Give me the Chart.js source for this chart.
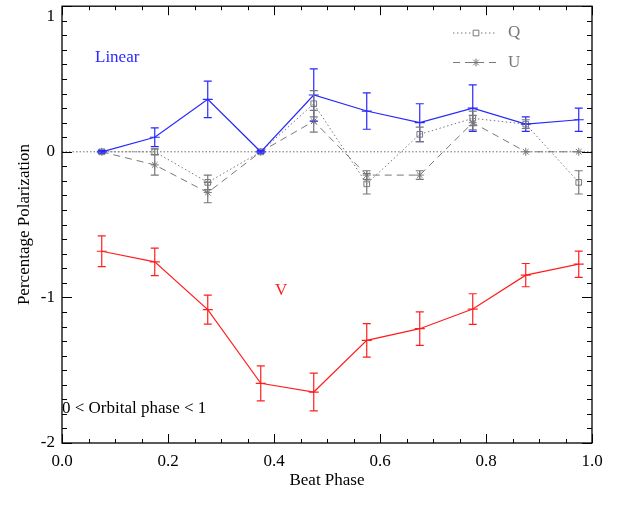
<!DOCTYPE html>
<html>
<head>
<meta charset="utf-8">
<script src="https://cdn.jsdelivr.net/npm/chart.js@4"></script>
<style>
  html, body { margin: 0; padding: 0; background: #fff; }
  #wrap { width: 623px; height: 510px; }
</style>
</head>
<body>
<div id="wrap"><canvas id="polChart" width="623" height="510"></canvas></div>
<script>
// beat phase bins
const phase = [0.075, 0.175, 0.275, 0.375, 0.475, 0.575, 0.675, 0.775, 0.875, 0.975];

// linear polarization
const linear = [0, 0.10, 0.36, 0, 0.39, 0.28, 0.20, 0.30, 0.19, 0.22];
const linearErr = [0.01, 0.065, 0.125, 0.01, 0.18, 0.125, 0.13, 0.16, 0.05, 0.08];

// Stokes Q and U
const qVals = [0, 0, -0.21, 0, 0.33, -0.22, 0.12, 0.23, 0.19, -0.21];
const qErr = [0, 0.02, 0.05, 0, 0.09, 0.07, 0.05, 0.05, 0.03, 0.08];
const uVals = [0, -0.09, -0.28, 0, 0.21, -0.16, -0.16, 0.20, 0, 0];
const uErr = [0, 0.07, 0.07, 0, 0.075, 0.03, 0.03, 0.05, 0, 0];

// circular polarization
const vVals = [-0.683, -0.756, -1.084, -1.59, -1.65, -1.295, -1.215, -1.08, -0.847, -0.772];
const vErr = [0.105, 0.095, 0.1, 0.12, 0.13, 0.115, 0.115, 0.105, 0.08, 0.09];

const xTickLabels = [0, 0.2, 0.4, 0.6, 0.8, 1.0];
const yTickLabels = [1, 0, -1, -2];

const SERIF = "'Liberation Serif', 'DejaVu Serif', serif";
const BLUE = "rgb(40, 40, 255)";
const RED = "rgb(255, 30, 30)";
const GRAY = "rgb(120, 120, 120)";

const toPoints = (vals) => vals.map((v, i) => ({ x: phase[i], y: v }));

// error bars drawn through the chart scales
const errorBarPlugin = {
  id: "errorBars",
  afterDatasetsDraw(chart) {
    const ctx = chart.ctx;
    const xs = chart.scales.x;
    const ys = chart.scales.y;
    chart.data.datasets.forEach((ds) => {
      if (!ds.errors) return;
      ctx.save();
      ctx.strokeStyle = ds.borderColor;
      ctx.lineWidth = 1.2;
      ds.data.forEach((p, i) => {
        const e = ds.errors[i];
        if (!e) return;
        const px = xs.getPixelForValue(p.x);
        const top = ys.getPixelForValue(p.y + e);
        const bot = ys.getPixelForValue(p.y - e);
        ctx.beginPath();
        ctx.moveTo(px, top);
        ctx.lineTo(px, bot);
        ctx.moveTo(px - 4, top);
        ctx.lineTo(px + 4, top);
        ctx.moveTo(px - 4, bot);
        ctx.lineTo(px + 4, bot);
        ctx.stroke();
      });
      ctx.restore();
    });
  },
};

// zero line, box, inward ticks, annotations and legend
const framePlugin = {
  id: "frame",
  beforeDatasetsDraw(chart) {
    const { ctx, chartArea } = chart;
    const y0 = chart.scales.y.getPixelForValue(0);
    ctx.save();
    ctx.strokeStyle = "rgb(110, 110, 110)";
    ctx.lineWidth = 1;
    ctx.setLineDash([1.5, 2]);
    ctx.beginPath();
    ctx.moveTo(chartArea.left, y0);
    ctx.lineTo(chartArea.right, y0);
    ctx.stroke();
    ctx.restore();
  },
  afterDraw(chart) {
    const { ctx, chartArea } = chart;
    const { left, right, top, bottom } = chartArea;
    const xs = chart.scales.x;
    const ys = chart.scales.y;
    ctx.save();
    ctx.strokeStyle = "#000";
    ctx.lineWidth = 1.3;
    ctx.strokeRect(left, top, right - left, bottom - top);

    ctx.lineWidth = 1;
    ctx.beginPath();
    for (let k = 0; k <= 20; k++) {
      const v = k * 0.05;
      const px = Math.round(xs.getPixelForValue(v)) + 0.5;
      const len = k % 4 === 0 ? 9 : 4;
      ctx.moveTo(px, bottom);
      ctx.lineTo(px, bottom - len);
      ctx.moveTo(px, top);
      ctx.lineTo(px, top + len);
    }
    for (let k = 0; k <= 30; k++) {
      const v = 1 - k * 0.1;
      const py = Math.round(ys.getPixelForValue(v)) + 0.5;
      const len = k % 10 === 0 ? 10 : 5;
      ctx.moveTo(left, py);
      ctx.lineTo(left + len, py);
      ctx.moveTo(right, py);
      ctx.lineTo(right - len, py);
    }
    ctx.stroke();

    // annotations
    ctx.font = "17px " + SERIF;
    ctx.textBaseline = "middle";
    ctx.textAlign = "left";
    ctx.fillStyle = BLUE;
    ctx.fillText("Linear", 95, 58);
    ctx.fillStyle = RED;
    ctx.fillText("V", 275, 291);
    ctx.fillStyle = "#000";
    ctx.fillText("0 < Orbital phase < 1", 62, 409);

    // legend
    const legendRows = [
      { label: "Q", y: 33, dash: [1.5, 2.5], style: "rect" },
      { label: "U", y: 62.5, dash: [7, 5], style: "star" },
    ];
    legendRows.forEach((row) => {
      ctx.strokeStyle = GRAY;
      ctx.lineWidth = 1;
      ctx.setLineDash(row.dash);
      ctx.beginPath();
      ctx.moveTo(453, row.y);
      ctx.lineTo(497, row.y);
      ctx.stroke();
      ctx.setLineDash([]);
      ctx.fillStyle = "#fff";
      Chart.helpers.drawPoint(ctx, { pointStyle: row.style, radius: 4, borderWidth: 1 }, 476, row.y);
      ctx.fillStyle = GRAY;
      ctx.fillText(row.label, 508, row.y);
    });
    ctx.restore();
  },
};

const ctx = document.getElementById("polChart").getContext("2d");

new Chart(ctx, {
  type: "line",
  data: {
    datasets: [
      {
        label: "Linear",
        data: toPoints(linear),
        errors: linearErr,
        borderColor: BLUE,
        backgroundColor: BLUE,
        borderWidth: 1.2,
        pointStyle: "line",
        pointRadius: 5,
        pointBorderWidth: 1.2,
      },
      {
        label: "Q",
        data: toPoints(qVals),
        errors: qErr,
        borderColor: GRAY,
        backgroundColor: "rgba(0,0,0,0)",
        borderWidth: 1,
        borderDash: [1.5, 2.5],
        pointStyle: "rect",
        pointRadius: 4,
        pointBorderWidth: 1,
      },
      {
        label: "U",
        data: toPoints(uVals),
        errors: uErr,
        borderColor: GRAY,
        backgroundColor: GRAY,
        borderWidth: 1,
        borderDash: [7, 5],
        pointStyle: "star",
        pointRadius: 4,
        pointBorderWidth: 1,
      },
      {
        label: "V",
        data: toPoints(vVals),
        errors: vErr,
        borderColor: RED,
        backgroundColor: RED,
        borderWidth: 1.2,
        pointStyle: "line",
        pointRadius: 5,
        pointBorderWidth: 1.2,
      },
    ],
  },
  options: {
    responsive: false,
    animation: false,
    devicePixelRatio: 1,
    layout: { padding: { top: 4, right: 31, left: 0, bottom: 0 } },
    plugins: { legend: { display: false }, tooltip: { enabled: false } },
    elements: { line: { tension: 0 } },
    scales: {
      x: {
        type: "linear",
        min: 0,
        max: 1,
        afterBuildTicks: (scale) => {
          scale.ticks = xTickLabels.map((v) => ({ value: v }));
        },
        afterFit: (scale) => {
          scale.height = 67;
          scale.paddingLeft = 0;
          scale.paddingRight = 0;
        },
        grid: { display: false, drawTicks: false },
        border: { display: false },
        ticks: {
          padding: 8,
          color: "#000",
          font: { family: SERIF, size: 17 },
          maxRotation: 0,
          callback: (v) => Number(v).toFixed(1),
        },
        title: {
          display: true,
          text: "Beat Phase",
          color: "#000",
          font: { family: SERIF, size: 17 },
          padding: { top: 0, bottom: 19 },
        },
      },
      y: {
        type: "linear",
        min: -2,
        max: 1,
        afterBuildTicks: (scale) => {
          scale.ticks = yTickLabels.map((v) => ({ value: v }));
        },
        afterFit: (scale) => {
          scale.width = 62;
          scale.paddingTop = 0;
          scale.paddingBottom = 0;
        },
        grid: { display: false, drawTicks: false },
        border: { display: false },
        ticks: {
          padding: 7,
          color: "#000",
          font: { family: SERIF, size: 17 },
          callback: (v) => (v === 1 ? ["", "1"] : String(v)),
        },
        title: {
          display: true,
          text: "Percentage Polarization",
          color: "#000",
          font: { family: SERIF, size: 17 },
          padding: { top: 14, bottom: 0 },
        },
      },
    },
  },
  plugins: [errorBarPlugin, framePlugin],
});
</script>
</body>
</html>
